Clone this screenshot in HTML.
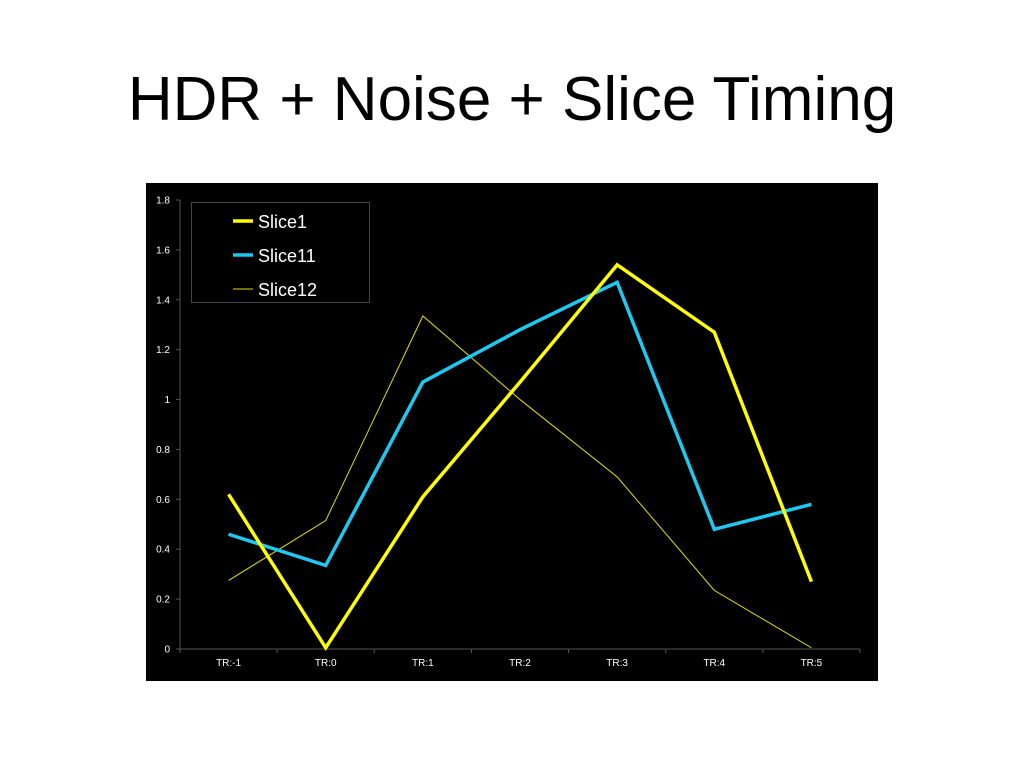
<!DOCTYPE html>
<html><head><meta charset="utf-8"><style>
body{margin:0;width:1024px;height:768px;background:#fff;position:relative;font-family:"Liberation Sans",sans-serif;}
#title{position:absolute;left:0;width:1024px;top:64px;text-align:center;font-size:62px;color:#000;}
svg{position:absolute;left:0;top:0;}
</style></head><body>
<div id="title">HDR + Noise + Slice Timing</div>
<svg id="chart" width="1024" height="768"></svg>
<script>
const categories=["TR:-1","TR:0","TR:1","TR:2","TR:3","TR:4","TR:5"];
const slice1=[0.62,0.005,0.61,1.07,1.54,1.27,0.27];
const slice11=[0.46,0.335,1.07,1.28,1.47,0.48,0.58];
const slice12=[0.275,0.515,1.335,1.0,0.69,0.235,0.005];
const yTicks=[0,0.2,0.4,0.6,0.8,1,1.2,1.4,1.6,1.8];
const seriesNames=["Slice1","Slice11","Slice12"];
const NS="http://www.w3.org/2000/svg";
const svg=document.getElementById('chart');
const X0=180,X1=860,Y0=649,Y1=200,YMAX=1.8;
const bw=(X1-X0)/categories.length;
const xs=i=>X0+bw*(i+0.5);
const ys=v=>Y0-(v/YMAX)*(Y0-Y1);
function mk(t,a){const e=document.createElementNS(NS,t);for(const k in a)e.setAttribute(k,a[k]);svg.appendChild(e);return e;}
let bg=mk('rect',{x:146,y:183,width:732,height:498,fill:'#000'});


let ya=mk('line',{x1:X0,y1:Y1,x2:X0,y2:Y0,stroke:'#555','stroke-width':1});


let xa=mk('line',{x1:X0,y1:Y0,x2:X1,y2:Y0,stroke:'#555','stroke-width':1});


yTicks.forEach(v=>{
 mk('line',{x1:X0-4,x2:X0,y1:ys(v),y2:ys(v),stroke:'#555'});
 let t=mk('text',{x:X0-10,y:ys(v)+3.5,fill:'#fff','font-size':10,'text-anchor':'end'});
 t.textContent=String(v);
 
 
});
for(let i=0;i<=categories.length;i++)mk('line',{x1:X0+bw*i,x2:X0+bw*i,y1:Y0,y2:Y0+4,stroke:'#555'});
categories.forEach((c,i)=>{
 let t=mk('text',{x:xs(i),y:Y0+17,fill:'#fff','font-size':10,'text-anchor':'middle'});
 t.textContent=c;
 
 
});
const data=[slice1,slice11,slice12],cols=['#ffff00','#1ec8f0','#e0e000'],wid=[3.5,3.5,1];
[2,1,0].forEach(s=>{
 let p=mk('polyline',{points:data[s].map((v,i)=>xs(i)+','+ys(v)).join(' '),fill:'none',stroke:cols[s],'stroke-width':wid[s],'stroke-linejoin':'miter'});
 
 
});
let lg=mk('rect',{x:191.5,y:202.5,width:178,height:100,fill:'#000',stroke:'#444'});


seriesNames.forEach((n,s)=>{
 const y=221+s*34;
 mk('line',{x1:233,x2:253,y1:y,y2:y,stroke:cols[s],'stroke-width':wid[s]});
 let t=mk('text',{x:258,y:y+7,fill:'#fff','font-size':18});
 t.textContent=n;
 
 
});
</script>
</body></html>
